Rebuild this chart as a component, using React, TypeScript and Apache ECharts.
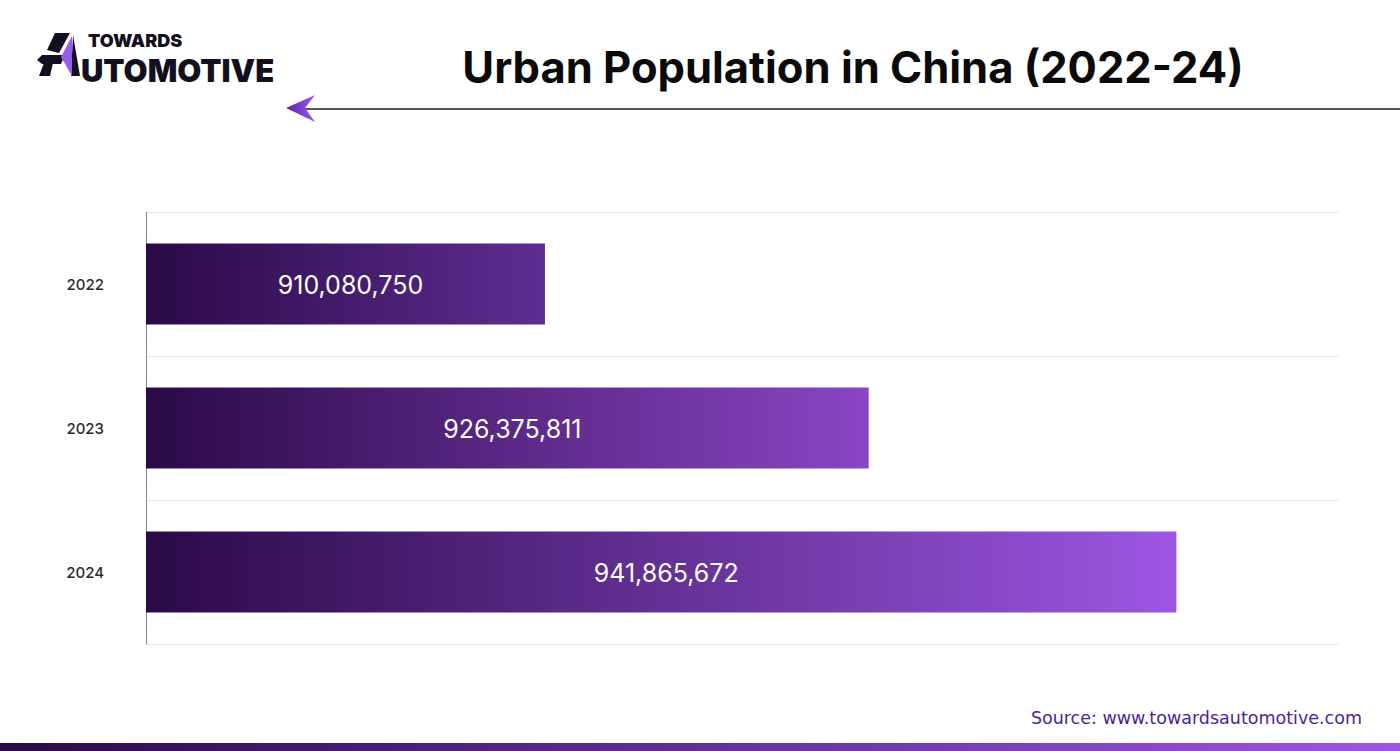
import React, { useEffect, useRef } from "react";
import * as echarts from "echarts";

const years = ["2022", "2023", "2024"];
const population = [910080750, 926375811, 941865672];
const barEndColors = ["#5e2d91", "#8a45c4", "#9d56e2"];

export default function App() {
  const ref = useRef<HTMLDivElement>(null);
  useEffect(() => {
    document.body.style.margin = "0";
    const chart = echarts.init(ref.current!, null, { renderer: "svg" });
    const data = population.map((v, i) => ({
      value: v,
      itemStyle: {
        color: new echarts.graphic.LinearGradient(0, 0, 1, 0, [
          { offset: 0, color: "#2a0a48" },
          { offset: 1, color: barEndColors[i] },
        ]),
      },
    }));
    const dark = "#140f1f";
    chart.setOption({
      animation: false,
      backgroundColor: "#ffffff",
      grid: { left: 146, right: 62, top: 212, bottom: 107 },
      xAxis: {
        type: "value",
        min: 890000000,
        max: 950000000,
        axisLabel: { show: false },
        axisLine: { show: false },
        axisTick: { show: false },
        splitLine: { show: false },
      },
      yAxis: {
        type: "category",
        data: years,
        inverse: true,
        axisLine: { show: true, lineStyle: { color: "#8a8a8a", width: 1 } },
        axisTick: { show: false },
        axisLabel: {
          color: "#2a2a2a",
          fontSize: 15,
          fontFamily: "Inter",
          fontWeight: 500,
          margin: 42,
        },
        splitLine: { show: true, lineStyle: { color: "#e4e4e4", width: 1 } },
      },
      series: [
        {
          type: "bar",
          data,
          barWidth: 81,
          label: {
            show: true,
            position: "inside",
            offset: [5, 1],
            color: "#ffffff",
            fontSize: 25,
            fontFamily: "Inter",
            fontWeight: 400,
            formatter: (p: any) => Number(p.value).toLocaleString("en-US"),
          },
        },
      ],
      graphic: [
        {
          type: "text",
          x: 853,
          y: 67,
          style: {
            text: "Urban Population in China (2022-24)",
            textAlign: "center",
            textVerticalAlign: "middle",
            fontSize: 43.5,
            fontWeight: 700,
            fontFamily: "Inter",
            fill: "#0a0a0a",
          },
        },
        {
          type: "line",
          shape: { x1: 300, y1: 109, x2: 1400, y2: 109 },
          style: { stroke: "#1c1a2a", lineWidth: 1.5 },
        },
        {
          type: "polygon",
          shape: { points: [[286, 108], [315, 95], [305, 108], [315, 122]] },
          style: {
            fill: new echarts.graphic.LinearGradient(0, 0, 1, 0, [
              { offset: 0, color: "#5a22b0" },
              { offset: 1, color: "#9b5be6" },
            ]),
          },
        },
        // logo icon
        {
          type: "polygon",
          shape: { points: [[55, 33], [70, 33], [59, 53], [47, 50]] },
          style: { fill: dark },
        },
        {
          type: "polygon",
          shape: { points: [[37, 60], [42, 55], [65, 55], [61, 64], [42, 64]] },
          style: { fill: dark },
        },
        {
          type: "polygon",
          shape: { points: [[44, 63], [53, 63], [50, 76], [39, 76]] },
          style: { fill: dark },
        },
        {
          type: "polygon",
          shape: { points: [[73, 35], [80, 76], [71, 76]] },
          style: { fill: dark },
        },
        {
          type: "polygon",
          shape: { points: [[72, 36], [61, 57], [72, 76]] },
          style: { fill: "#9a5cf0" },
        },
        {
          type: "text",
          x: 88,
          y: 40,
          style: {
            text: "TOWARDS",
            textVerticalAlign: "middle",
            fontSize: 18,
            fontWeight: 900,
            fontFamily: "Inter",
            fill: dark,
          },
        },
        {
          type: "text",
          x: 81,
          y: 70,
          style: {
            text: "UTOMOTIVE",
            textVerticalAlign: "middle",
            fontSize: 31,
            fontWeight: 900,
            fontFamily: "Inter",
            fill: dark,
          },
        },
        {
          type: "text",
          x: 1362,
          y: 718,
          style: {
            text: "Source: www.towardsautomotive.com",
            textAlign: "right",
            textVerticalAlign: "middle",
            fontSize: 17.5,
            fontFamily: "DejaVu Sans",
            fill: "#4a1fa0",
          },
        },
        {
          type: "rect",
          shape: { x: 0, y: 743, width: 1400, height: 8 },
          style: {
            fill: new echarts.graphic.LinearGradient(0, 0, 1, 0, [
              { offset: 0, color: "#2a0a48" },
              { offset: 1, color: "#9d56e2" },
            ]),
          },
        },
      ],
    });
    return () => chart.dispose();
  }, []);
  return (
    <div
      ref={ref}
      style={{ position: "absolute", left: 0, top: 0, width: 1400, height: 751 }}
    />
  );
}
